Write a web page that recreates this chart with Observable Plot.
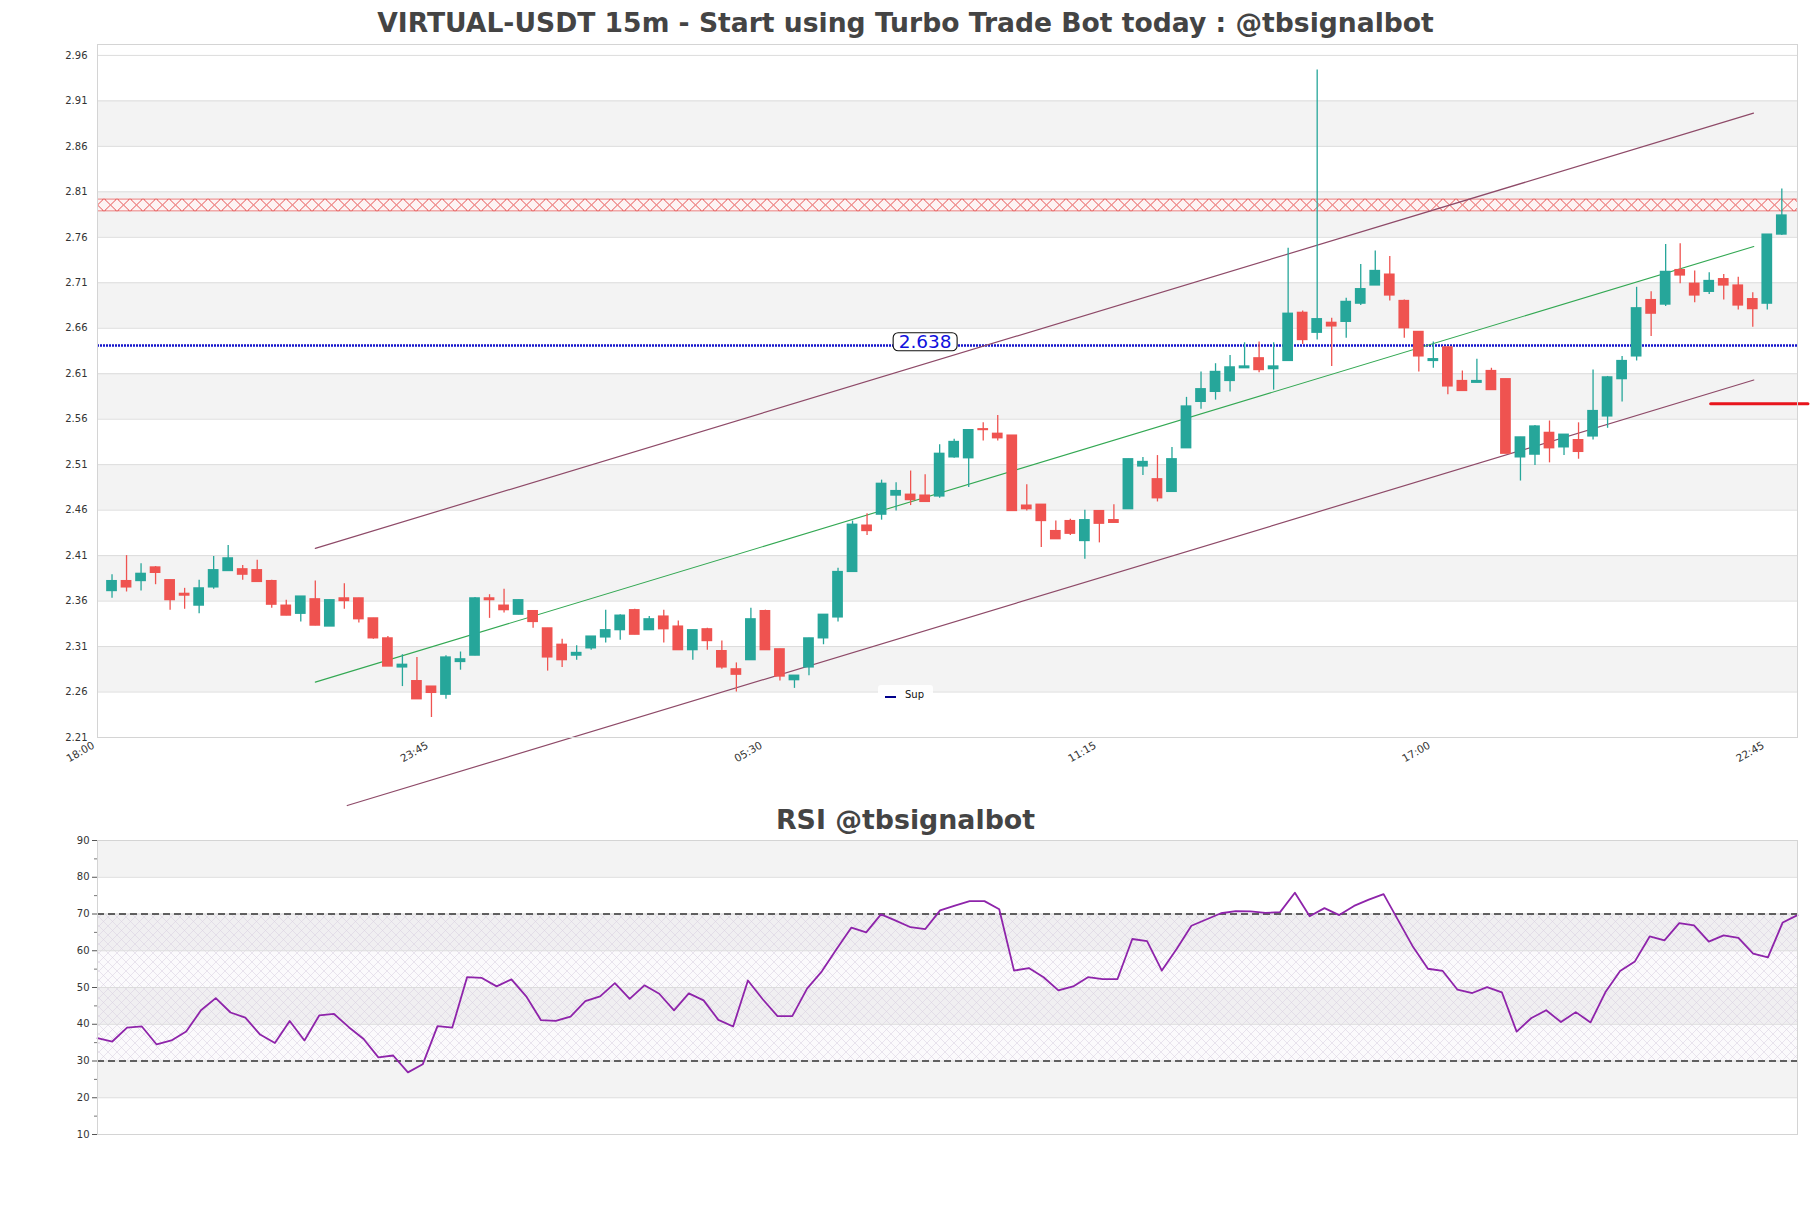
<!DOCTYPE html>
<html><head><meta charset="utf-8">
<script src="https://cdn.jsdelivr.net/npm/d3@7"></script>
<script src="https://cdn.jsdelivr.net/npm/@observablehq/plot@0.6"></script>
<style>
body{margin:0;background:#fff;font-family:"DejaVu Sans",sans-serif}
#wrap{position:relative;width:1811px;height:1208px;overflow:hidden;background:#fff}
.abs{position:absolute;left:0}
#legend{position:absolute;left:878px;top:685px;width:55px;height:22px;background:rgba(255,255,255,0.9);border-radius:3px}
#legend .ln{position:absolute;left:7px;top:11px;width:11px;height:2px;background:#00008b}
#legend .tx{position:absolute;left:27px;top:4px;font:10px "DejaVu Sans";color:#111}
</style></head><body>
<div id="wrap">
<div id="main" class="abs" style="top:0"></div>
<div id="rsi" class="abs" style="top:800px"></div>
<svg id="titles" class="abs" style="top:0" width="1811" height="1208">
  <text id="t1" x="905.5" y="32" text-anchor="middle" font-family="DejaVu Sans" font-weight="bold" font-size="26.6" fill="#444"></text>
  <text id="t2" x="905.5" y="829" text-anchor="middle" font-family="DejaVu Sans" font-weight="bold" font-size="26.8" fill="#444"></text>
</svg>
<div id="legend"><div class="ln"></div><div class="tx">Sup</div></div>
</div>
<script>
// ---------- data ----------
const title = "VIRTUAL-USDT 15m - Start using Turbo Trade Bot today : @tbsignalbot";
const rsiTitle = "RSI @tbsignalbot";
const xTickIdx = [0, 23, 46, 69, 92, 115];
const xTickLabels = ["18:00", "23:45", "05:30", "11:15", "17:00", "22:45"];
const priceTicks = [2.21,2.26,2.31,2.36,2.41,2.46,2.51,2.56,2.61,2.66,2.71,2.76,2.81,2.86,2.91,2.96];
const rsiTicks = [10,20,30,40,50,60,70,80,90];
const rsiMinor = [15,25,35,45,55,65,75,85];

const open  = [2.371,2.382,2.382,2.397,2.383,2.368,2.355,2.375,2.393,2.395,2.394,2.382,2.355,2.346,2.362,2.332,2.363,2.363,2.341,2.319,2.287,2.272,2.266,2.257,2.293,2.300,2.363,2.355,2.345,2.349,2.330,2.312,2.300,2.308,2.320,2.328,2.350,2.328,2.343,2.332,2.306,2.329,2.305,2.285,2.295,2.349,2.307,2.273,2.287,2.319,2.342,2.392,2.443,2.455,2.476,2.477,2.476,2.475,2.518,2.517,2.549,2.544,2.542,2.465,2.466,2.437,2.448,2.426,2.459,2.449,2.461,2.508,2.494,2.480,2.528,2.579,2.590,2.602,2.616,2.627,2.615,2.624,2.677,2.655,2.666,2.667,2.687,2.707,2.719,2.690,2.656,2.624,2.639,2.602,2.600,2.613,2.604,2.518,2.521,2.545,2.529,2.537,2.541,2.563,2.604,2.629,2.691,2.686,2.724,2.709,2.700,2.714,2.707,2.692,2.687,2.763];
const high  = [2.389,2.410,2.401,2.398,2.383,2.374,2.383,2.409,2.421,2.399,2.405,2.383,2.361,2.365,2.382,2.361,2.379,2.363,2.341,2.321,2.301,2.298,2.266,2.300,2.304,2.364,2.367,2.373,2.361,2.349,2.330,2.318,2.311,2.321,2.350,2.345,2.351,2.343,2.350,2.338,2.328,2.330,2.316,2.292,2.352,2.350,2.307,2.278,2.319,2.345,2.396,2.448,2.456,2.493,2.490,2.503,2.499,2.532,2.538,2.548,2.556,2.564,2.542,2.488,2.466,2.448,2.450,2.460,2.459,2.466,2.516,2.518,2.520,2.529,2.584,2.612,2.621,2.630,2.644,2.645,2.644,2.748,2.679,2.944,2.671,2.693,2.730,2.745,2.739,2.691,2.656,2.645,2.639,2.613,2.626,2.616,2.604,2.540,2.553,2.558,2.543,2.556,2.614,2.607,2.629,2.705,2.700,2.752,2.753,2.723,2.721,2.719,2.716,2.699,2.763,2.813];
const low   = [2.363,2.370,2.371,2.378,2.350,2.351,2.346,2.373,2.393,2.383,2.381,2.352,2.344,2.337,2.333,2.332,2.351,2.336,2.318,2.288,2.266,2.252,2.232,2.252,2.284,2.300,2.341,2.347,2.345,2.330,2.283,2.287,2.295,2.306,2.314,2.317,2.323,2.328,2.314,2.306,2.295,2.306,2.285,2.260,2.295,2.306,2.272,2.264,2.278,2.312,2.337,2.392,2.432,2.449,2.459,2.465,2.469,2.473,2.517,2.485,2.536,2.536,2.459,2.459,2.419,2.428,2.432,2.406,2.424,2.446,2.461,2.498,2.469,2.480,2.528,2.571,2.581,2.590,2.616,2.611,2.592,2.624,2.642,2.647,2.618,2.649,2.685,2.707,2.690,2.649,2.612,2.616,2.587,2.591,2.600,2.592,2.522,2.492,2.509,2.512,2.520,2.516,2.537,2.550,2.579,2.624,2.651,2.684,2.709,2.688,2.697,2.691,2.680,2.661,2.680,2.762];
const close = [2.382,2.375,2.390,2.391,2.361,2.366,2.374,2.394,2.407,2.389,2.381,2.356,2.344,2.365,2.333,2.361,2.360,2.340,2.319,2.288,2.290,2.252,2.259,2.298,2.296,2.363,2.361,2.350,2.361,2.337,2.298,2.295,2.303,2.321,2.328,2.344,2.323,2.340,2.329,2.306,2.328,2.316,2.287,2.279,2.340,2.306,2.277,2.278,2.319,2.345,2.392,2.444,2.437,2.489,2.481,2.471,2.469,2.522,2.535,2.548,2.548,2.539,2.459,2.461,2.448,2.428,2.434,2.449,2.445,2.446,2.516,2.513,2.473,2.516,2.574,2.593,2.612,2.617,2.618,2.614,2.618,2.676,2.647,2.670,2.662,2.689,2.703,2.723,2.696,2.660,2.629,2.626,2.596,2.591,2.602,2.592,2.522,2.540,2.552,2.528,2.543,2.524,2.569,2.606,2.624,2.682,2.676,2.722,2.718,2.696,2.712,2.707,2.685,2.681,2.763,2.784];

const rsi = [36.2,35.3,39.1,39.4,34.5,35.6,38.0,43.8,47.1,43.2,
             41.8,37.2,34.9,40.9,35.6,42.4,42.8,39.2,36.0,31.0,
             31.5,26.9,29.1,39.5,39.1,52.8,52.6,50.3,52.2,47.6,
             41.1,40.9,42.1,46.3,47.6,51.2,46.9,50.6,48.3,43.8,
             48.4,46.5,41.2,39.4,51.9,46.8,42.2,42.2,49.7,54.4,
             60.5,66.3,65.0,69.9,68.2,66.4,65.9,71.0,72.3,73.5,
             73.5,71.3,54.6,55.3,52.8,49.2,50.3,52.8,52.3,52.3,
             63.2,62.6,54.6,60.5,66.8,68.5,70.2,70.8,70.7,70.3,
             70.5,75.8,69.4,71.6,69.7,72.2,73.9,75.4,68.2,61.0,
             55.1,54.5,49.4,48.5,50.1,48.7,38.0,41.7,43.8,40.6,
             43.3,40.5,48.7,54.5,57.1,63.9,62.8,67.5,66.9,62.5,
             64.2,63.5,59.2,58.2,67.7,69.7];

const chanUpperX = [15, 114.05], chanUpperY = [2.418, 2.8965];
const chanMidX   = [15, 114.07], chanMidY   = [2.2709, 2.7499];
const chanLowX   = [17.2, 114.07], chanLowY = [2.1352, 2.6031];
const resZone = [2.788, 2.802];
const supLevel = 2.641;
const supLabel = "2.638";
const supLabelX = 57;
const markX = [111.1, 117.8], markY = [2.577, 2.577];
const rsiLevels = [30, 70];

// ---------- build ----------
const UP = "#26a69a", DOWN = "#ef5350";
const candles = open.map((o, k) => ({i: k + 1, o, h: high[k], l: low[k], c: close[k]}));
const col = d => d.c >= d.o ? UP : DOWN;
const bands = priceTicks.slice(0, -1).map((v, k) => ({y1: v, y2: priceTicks[k + 1], gray: k % 2 === 1})).filter(d => d.gray);
const rsiBands = rsiTicks.slice(0, -1).map((v, k) => ({y1: v, y2: rsiTicks[k + 1], gray: k % 2 === 1})).filter(d => d.gray);
const pts = (xs, ys) => xs.map((x, k) => ({x, y: ys[k]}));

const mainPlot = Plot.plot({
  width: 1811, height: 830,
  marginLeft: 97, marginRight: 14, marginTop: 44, marginBottom: 93,
  style: {fontFamily: "DejaVu Sans", color: "#333", background: "transparent"},
  x: {domain: [0, 117.08]},
  y: {domain: [2.21, 2.972]},
  color: {type: "identity"},
  marks: [
    Plot.rect(bands, {y1: "y1", y2: "y2", fill: "#f3f3f3"}),
    Plot.ruleY(priceTicks, {stroke: "#dcdcdc", strokeWidth: 1}),
    Plot.rect([{y1: resZone[0], y2: resZone[1]}], {y1: "y1", y2: "y2", fill: "url(#redhatch)"}),
    Plot.ruleY([supLevel], {stroke: "#1414cc", strokeWidth: 2.6, strokeDasharray: "2,1"}),
    Plot.line(pts(chanUpperX, chanUpperY), {x: "x", y: "y", stroke: "#8e4a68", strokeWidth: 1.2}),
    Plot.line(pts(chanMidX, chanMidY), {x: "x", y: "y", stroke: "#33a853", strokeWidth: 1.1}),
    Plot.line(pts(chanLowX, chanLowY), {x: "x", y: "y", stroke: "#8e4a68", strokeWidth: 1.2}),
    Plot.ruleX(candles, {x: "i", y1: "l", y2: "h", stroke: col, strokeWidth: 1.3}),
    Plot.rect(candles, {x1: d => d.i - 0.37, x2: d => d.i + 0.37,
      y1: d => Math.min(d.o, d.c), y2: d => Math.max(d.o, d.c),
      fill: col, insetTop: -0.6, insetBottom: -0.6}),
    Plot.line(pts(markX, markY), {x: "x", y: "y", stroke: "#e8141c", strokeWidth: 3}),
    Plot.text([supLabel], {x: () => supLabelX, y: () => supLevel, text: d => d,
      fill: "#1111dd", fontSize: 18.5, dy: -3.2}),
    Plot.frame({stroke: "#d4d4d4"}),
    Plot.axisY({ticks: priceTicks, tickFormat: d => d.toFixed(2), tickSize: 0, tickPadding: 10, fontSize: 10}),
    Plot.axisX({ticks: xTickIdx, tickFormat: d => xTickLabels[xTickIdx.indexOf(d)], tickRotate: -30, tickSize: 0, tickPadding: 4, fontSize: 10.5, dx: -4, dy: 3})
  ]
});
document.getElementById("main").appendChild(mainPlot);

const rsiPlot = Plot.plot({
  width: 1811, height: 360,
  marginLeft: 97, marginRight: 14, marginTop: 40, marginBottom: 26,
  style: {fontFamily: "DejaVu Sans", color: "#333", background: "transparent"},
  x: {domain: [0, rsi.length - 1], axis: null},
  y: {domain: [10, 90]},
  marks: [
    Plot.rect(rsiBands, {y1: "y1", y2: "y2", fill: "#f3f3f3"}),
    Plot.rect([{y1: rsiLevels[0], y2: rsiLevels[1]}], {y1: "y1", y2: "y2", fill: "url(#rsihatch)"}),
    Plot.ruleY(rsiTicks, {stroke: "#dcdcdc", strokeWidth: 1}),
    Plot.ruleY(rsiLevels, {stroke: "#333", strokeWidth: 1.3, strokeDasharray: "7,4"}),
    Plot.line(rsi, {x: (d, i) => i, y: d => d, stroke: "#8e24aa", strokeWidth: 1.8}),
    Plot.frame({stroke: "#d4d4d4"}),
    Plot.axisY({ticks: rsiTicks, tickSize: 5, tickPadding: 3, fontSize: 10, stroke: "#555"}),
    Plot.axisY({ticks: rsiMinor, tickSize: 3, text: null, stroke: "#777"})
  ]
});
document.getElementById("rsi").appendChild(rsiPlot);

// titles
document.getElementById("t1").textContent = title;
document.getElementById("t2").textContent = rsiTitle;

// patterns
const ys = mainPlot.scale("y");
const zTop = ys.apply(resZone[1]), zBot = ys.apply(resZone[0]);
const H = zBot - zTop;
d3.select(mainPlot).insert("defs", ":first-child").html(
  `<pattern id="redhatch" patternUnits="userSpaceOnUse" width="13" height="${H}" patternTransform="translate(0,${zTop})">
     <rect width="13" height="${H}" fill="#fdf3f3"/>
     <path d="M0,0L13,${H}M13,0L0,${H}" stroke="#e02828" stroke-width="0.8" fill="none"/>
     <path d="M0,0.4H13M0,${H-0.4}H13" stroke="#e24040" stroke-width="0.7" fill="none"/>
   </pattern>`);
d3.select(rsiPlot).insert("defs", ":first-child").html(
  `<pattern id="rsihatch" patternUnits="userSpaceOnUse" width="9" height="9">
     <rect width="9" height="9" fill="rgba(220,210,232,0.12)"/>
     <path d="M0,0L9,9M9,0L0,9" stroke="#d8d0e0" stroke-width="0.55" fill="none"/>
   </pattern>`);

// label box
d3.select(mainPlot).selectAll("text").filter(function() { return this.textContent === supLabel; }).each(function() {
  const b = this.getBBox();
  const tr = this.getAttribute("transform");
  const r = d3.select(this.parentNode).insert("rect", () => this)
    .attr("x", b.x - 5.5).attr("y", b.y + 1.5).attr("width", b.width + 11).attr("height", b.height - 3)
    .attr("rx", 5).attr("fill", "#fff").attr("stroke", "#111").attr("stroke-width", 1.1);
  if (tr) r.attr("transform", tr);
});
</script>
</body></html>
